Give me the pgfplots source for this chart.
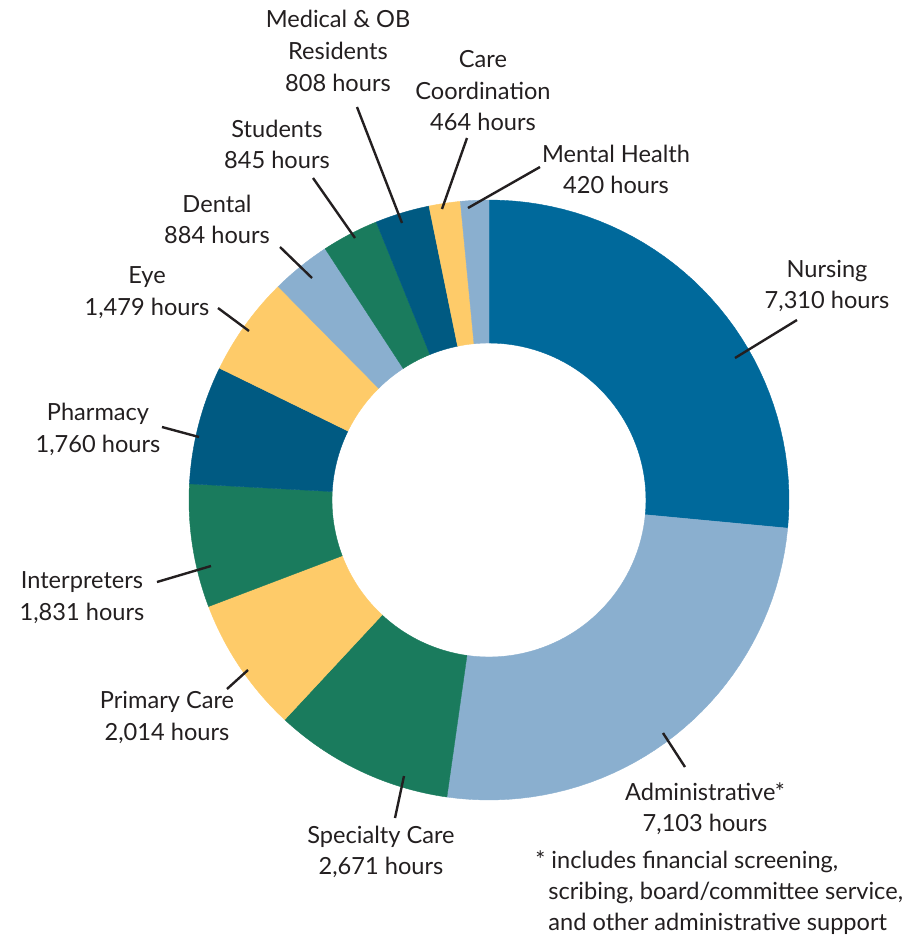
\documentclass[border=0pt]{standalone}
\usepackage{pgfplots}
\pgfplotsset{compat=1.18}
\usepackage{pgfplotstable}
\usepackage{fontspec}
\setmainfont{Lato}
\definecolor{cNurse}{HTML}{00699B}
\definecolor{cDark}{HTML}{005A82}
\definecolor{cLight}{HTML}{8AAFCF}
\definecolor{cGreen}{HTML}{1A7B5D}
\definecolor{cYellow}{HTML}{FECB69}
\definecolor{cText}{HTML}{231F20}

\pgfplotstableread{
hours color
7310 cNurse
7103 cLight
2671 cGreen
2014 cYellow
1831 cGreen
1760 cDark
1479 cYellow
884 cLight
845 cGreen
808 cDark
464 cYellow
420 cLight
}\hourstable

\begin{document}
\def\total{0}%
\pgfplotsforeachungrouped \i in {0,...,11}{%
  \pgfplotstablegetelem{\i}{hours}\of\hourstable
  \pgfmathsetmacro\total{\total+\pgfplotsretval/1000}%
}%
\begin{tikzpicture}[
  declare function={
    angf(\t,\a,\b) = (\t<=1) ? (\a+(\b-\a)*\t) : ((\t<=2) ? \b : ((\t<=3) ? (\b-(\b-\a)*(\t-2)) : \a));
    radf(\t) = (\t<=1) ? 300 : ((\t<=2) ? (300-143*(\t-1)) : ((\t<=3) ? 157 : (157+143*(\t-3))));
  },
  lbl/.style={anchor=base, font=\fontsize{11.8}{14}\selectfont, text=cText, inner sep=0pt},
  lead/.style={draw=cText, line width=1.2pt}
]
\begin{axis}[
  x=0.5pt, y=0.5pt,
  xmin=0, xmax=917, ymin=0, ymax=944,
  y dir=reverse,
  hide axis, clip=false,
]
\path (axis cs:0,0) rectangle (axis cs:917,944);
\def\cum{0}%
\pgfplotsforeachungrouped \i in {0,...,11}{%
  \pgfplotstablegetelem{\i}{hours}\of\hourstable \let\h\pgfplotsretval
  \pgfplotstablegetelem{\i}{color}\of\hourstable \let\col\pgfplotsretval
  \pgfmathsetmacro\aS{90-360*\cum/\total}%
  \pgfmathsetmacro\cum{\cum+\h/1000}%
  \pgfmathsetmacro\aE{90-360*\cum/\total}%
  \edef\doplot{\noexpand\addplot[fill=\col, draw=\col, line width=0.2pt, mark=none, domain=0:4, samples=161]
    ({489+radf(x)*cos(angf(x,\aS,\aE))}, {500-radf(x)*sin(angf(x,\aS,\aE))});}%
  \doplot
}

% labels
\node[lbl] at (axis cs:827,277) {Nursing};
\node[lbl] at (axis cs:827,308) {7,310 hours};
\node[lbl] at (axis cs:705,800) {Administrative*};
\node[lbl] at (axis cs:705,831) {7,103 hours};
\node[lbl] at (axis cs:381,843) {Specialty Care};
\node[lbl] at (axis cs:381,874) {2,671 hours};
\node[lbl] at (axis cs:167,708) {Primary Care};
\node[lbl] at (axis cs:167,740) {2,014 hours};
\node[lbl] at (axis cs:82,588) {Interpreters};
\node[lbl] at (axis cs:82,620) {1,831 hours};
\node[lbl] at (axis cs:98,420) {Pharmacy};
\node[lbl] at (axis cs:98,452) {1,760 hours};
\node[lbl] at (axis cs:147,283) {Eye};
\node[lbl] at (axis cs:147,315) {1,479 hours};
\node[lbl] at (axis cs:217,212) {Dental};
\node[lbl] at (axis cs:217,243) {884 hours};
\node[lbl] at (axis cs:277,137) {Students};
\node[lbl] at (axis cs:277,168) {845 hours};
\node[lbl] at (axis cs:338,27) {Medical \& OB};
\node[lbl] at (axis cs:338,59) {Residents};
\node[lbl] at (axis cs:338,91) {808 hours};
\node[lbl] at (axis cs:483,67) {Care};
\node[lbl] at (axis cs:483,99) {Coordination};
\node[lbl] at (axis cs:483,130) {464 hours};
\node[lbl] at (axis cs:616,162) {Mental Health};
\node[lbl] at (axis cs:616,193) {420 hours};

\node[lbl, anchor=base west] at (axis cs:535,868) {* includes financial screening,};
\node[lbl, anchor=base west] at (axis cs:548,899) {scribing, board/committee service,};
\node[lbl, anchor=base west] at (axis cs:548,930) {and other administrative support};

% leader lines
\draw[lead] (axis cs:797,320) -- (axis cs:735,358);
\draw[lead] (axis cs:685,767) -- (axis cs:663,733);
\draw[lead] (axis cs:395,818) -- (axis cs:404,776);
\draw[lead] (axis cs:227,689) -- (axis cs:248,670);
\draw[lead] (axis cs:157,582) -- (axis cs:211,566);
\draw[lead] (axis cs:162,427) -- (axis cs:199,437);
\draw[lead] (axis cs:218,308) -- (axis cs:249,331);
\draw[lead] (axis cs:280,247) -- (axis cs:312,278);
\draw[lead] (axis cs:313,178) -- (axis cs:355,238);
\draw[lead] (axis cs:357,107) -- (axis cs:402,223);
\draw[lead] (axis cs:467,138) -- (axis cs:442,209);
\draw[lead] (axis cs:540,167) -- (axis cs:468,208);
\end{axis}
\end{tikzpicture}
\end{document}
